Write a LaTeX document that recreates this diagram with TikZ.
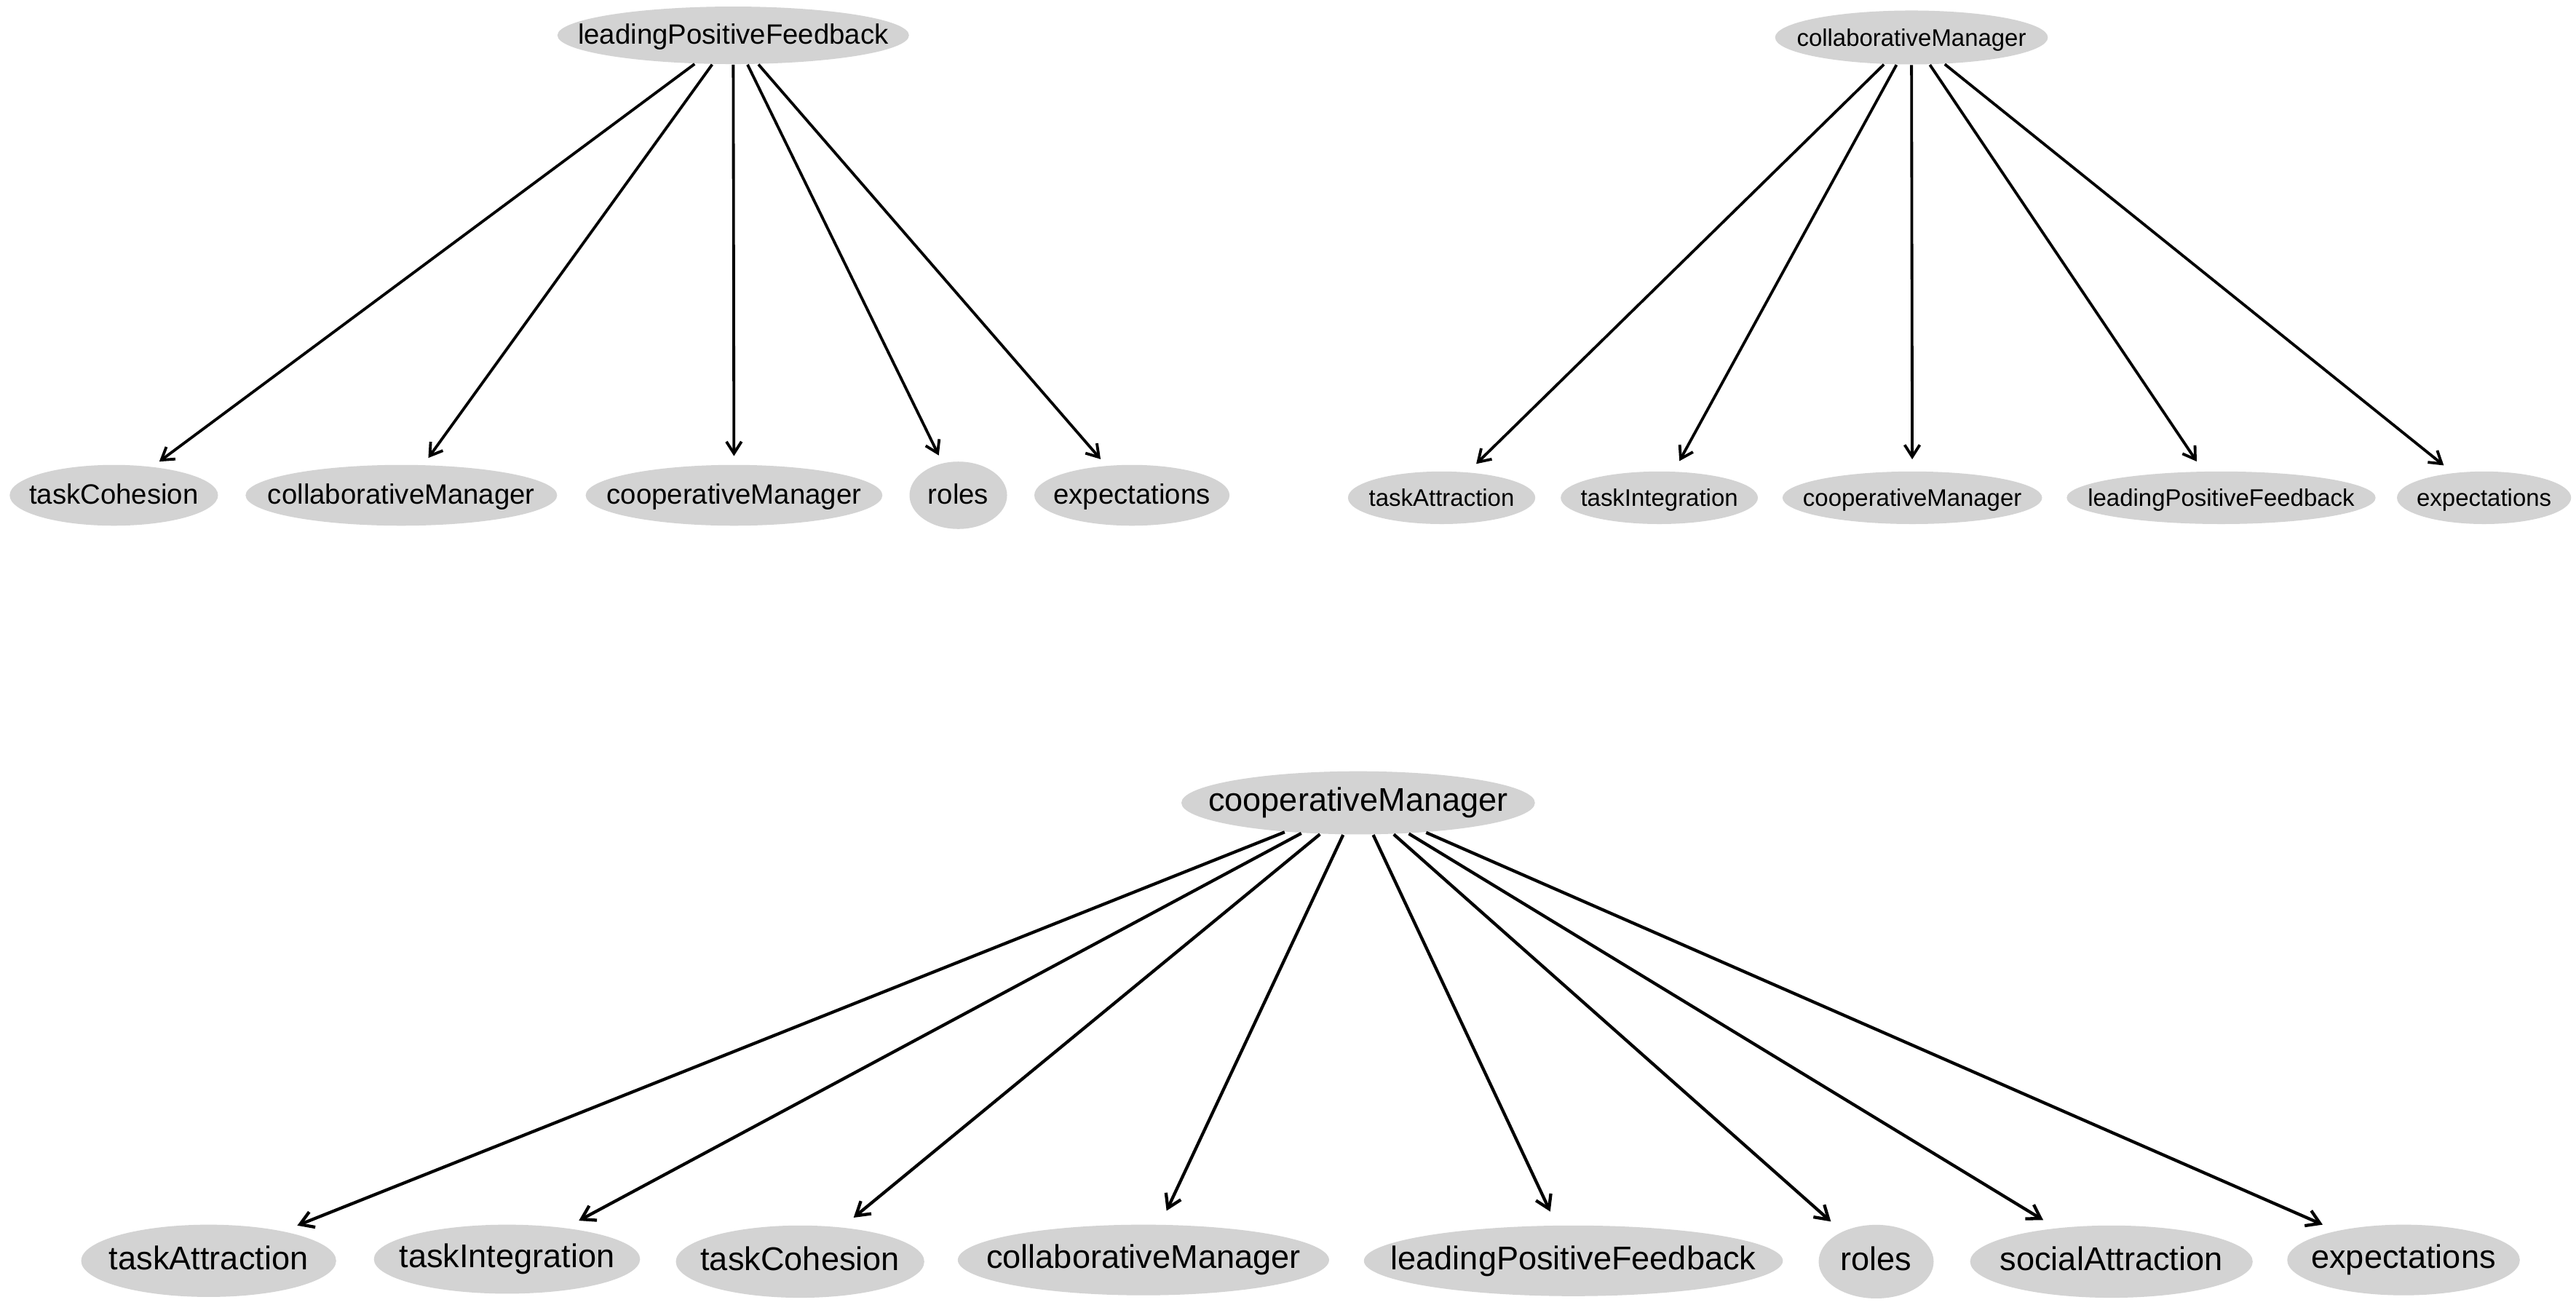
\documentclass[tikz,border=0pt]{standalone}
\usepackage{fontspec}
\setmainfont{Liberation Sans}
\usetikzlibrary{shapes.geometric,arrows.meta}
\definecolor{ellfill}{RGB}{211,211,211}
\tikzset{
  ell/.style 2 args={ellipse, fill=ellfill, draw=none, inner sep=0pt,
    minimum width=#1pt, minimum height=#2pt},
  lbl/.style={inner sep=0pt, text height=0.72em, text depth=0.2em, text=black},
  fa/.style={lbl, font=\fontsize{8.5}{10}\selectfont},
  fb/.style={lbl, font=\fontsize{7.3}{9}\selectfont},
  fc/.style={lbl, font=\fontsize{10}{12}\selectfont},
  arr/.style={draw=black, line width=0.85pt,
    -{Straight Barb[length=3.6pt,width=4.6pt,line width=0.85pt]}},
  arra/.style={arr, shorten >=2.5pt},
  arrb/.style={arr, shorten >=3.5pt},
  arrc/.style={arr, line width=0.95pt, shorten >=4.5pt,
    -{Straight Barb[length=4pt,width=5pt,line width=0.95pt]}},
}
\begin{document}
\begin{tikzpicture}[x=0.5pt,y=-0.5pt]
\useasboundingbox (0,0) rectangle (1568,799);
% ---------- top-left ----------
\node[ell={107}{17.5}]  (A0) at (446.3,21.5) {};
\node[ell={63.4}{18.5}] (A1) at (69.3,301.5) {};
\node[ell={94.8}{18.5}] (A2) at (244.3,301.5) {};
\node[ell={90.3}{18.5}] (A3) at (446.8,301.5) {};
\node[ell={29.7}{20.5}] (A4) at (583.3,301.5) {};
\node[ell={59.4}{18.5}] (A5) at (689,301.5) {};
\node[fa] (A0t) at (A0) {leadingPositiveFeedback};
\node[fa] (A1t) at (A1) {taskCohesion};
\node[fa] (A2t) at (A2) {collaborativeManager};
\node[fa] (A3t) at (A3) {cooperativeManager};
\node[fa] (A4t) at (A4) {roles};
\node[fa] (A5t) at (A5) {expectations};
\foreach \t in {A1,A2,A3,A4,A5} \draw[arra] (A0) -- (\t);
% ---------- top-right ----------
\node[ell={83}{16.4}] (B0) at (1163.5,22.8) {};
\node[ell={57}{16}]   (B1) at (877.5,303) {};
\node[ell={60}{16}]   (B2) at (1010,303) {};
\node[ell={79}{16}]   (B3) at (1164,303) {};
\node[ell={94}{16}]   (B4) at (1352,303) {};
\node[ell={53}{16}]   (B5) at (1512,303) {};
\node[fb] (B0t) at (B0) {collaborativeManager};
\node[fb] (B1t) at (B1) {taskAttraction};
\node[fb] (B2t) at (B2) {taskIntegration};
\node[fb] (B3t) at (B3) {cooperativeManager};
\node[fb] (B4t) at (B4) {leadingPositiveFeedback};
\node[fb] (B5t) at (B5) {expectations};
\foreach \t in {B1,B2,B3,B4,B5} \draw[arrb] (B0) -- (\t);
% ---------- bottom ----------
\node[ell={107.6}{19.2}] (C0) at (826.7,488.7) {};
\node[ell={77.6}{22}]    (C1) at (127,767.5) {};
\node[ell={81}{21}]      (C2) at (308.6,766.5) {};
\node[ell={75.6}{22}]    (C3) at (487,768) {};
\node[ell={113}{21.5}]   (C4) at (696,767) {};
\node[ell={127.5}{21.5}] (C5) at (957.7,767.5) {};
\node[ell={35}{22.4}]    (C6) at (1142,768) {};
\node[ell={86}{22}]      (C7) at (1285.2,768) {};
\node[ell={70.8}{21.5}]  (C8) at (1463,767) {};
\node[fc] (C0t) at (C0) {cooperativeManager};
\node[fc] (C1t) at (C1) {taskAttraction};
\node[fc] (C2t) at (C2) {taskIntegration};
\node[fc] (C3t) at (C3) {taskCohesion};
\node[fc] (C4t) at (C4) {collaborativeManager};
\node[fc] (C5t) at (C5) {leadingPositiveFeedback};
\node[fc] (C6t) at (C6) {roles};
\node[fc] (C7t) at (C7) {socialAttraction};
\node[fc] (C8t) at (C8) {expectations};
\foreach \t in {C1,C2,C3,C4,C5,C6,C7,C8} \draw[arrc] (C0) -- (\t);
\end{tikzpicture}
\end{document}
